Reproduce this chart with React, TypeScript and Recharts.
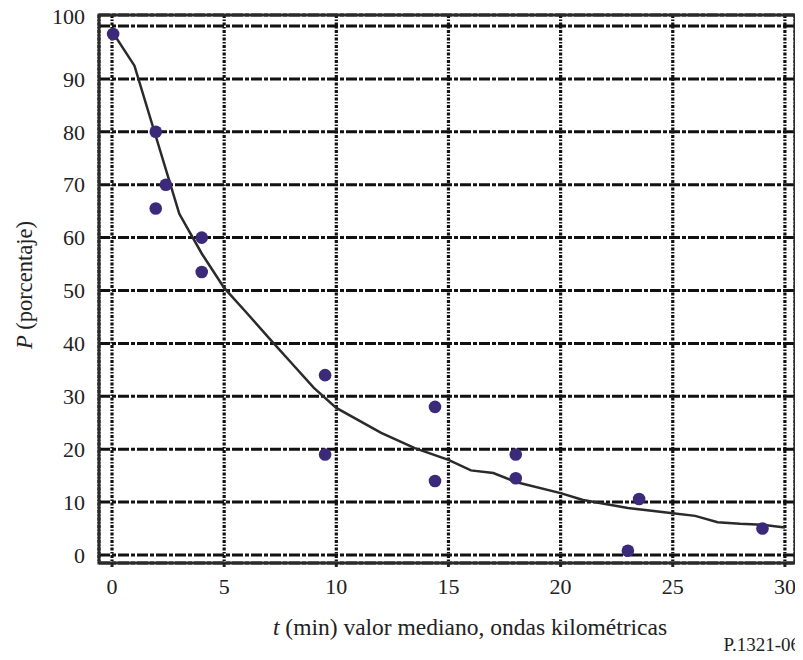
import React from 'react';
import { ComposedChart, Line, Scatter, XAxis, YAxis, CartesianGrid, ReferenceArea } from 'recharts';

const xTicks = [0, 5, 10, 15, 20, 25, 30];
const yTicks = [0, 10, 20, 30, 40, 50, 60, 70, 80, 90, 100];

const curveT = [0, 1, 3, 4, 5, 6, 7, 8, 9, 10, 12, 13.5, 15, 16, 17, 18, 20, 21, 23, 25, 26, 27, 28, 29, 30];
const curveP = [99, 92.5, 64.5, 57, 50.5, 45.8, 41, 36.3, 31.6, 27.8, 23.1, 20.2, 18, 16, 15.5, 13.8, 11.7, 10.4, 8.9, 7.9, 7.4, 6.2, 5.9, 5.7, 5.2];

const obsT = [0.05, 1.95, 2.4, 1.95, 4, 4, 9.5, 9.5, 14.4, 14.4, 18, 18, 23, 23.5, 29];
const obsP = [98.5, 80, 70, 65.5, 60, 53.5, 34, 19, 28, 14, 19, 14.5, 0.8, 10.6, 5];

const curveData = curveT.map((t, i) => ({ t, p: curveP[i] }));
const obsData = obsT.map((t, i) => ({ t, p: obsP[i] }));

const X_DOMAIN: [number, number] = [-0.58, 30.45];
const Y_DOMAIN: [number, number] = [-1.51, 102.08];

const FONT = 'Liberation Serif, Times New Roman, serif';

const XTick = (props: any) => {
  const { x, y, payload } = props;
  return (
    <text x={x} y={y} dy="0.71em" textAnchor="middle" fontFamily={FONT} fontSize={22} fill="#222">
      {payload.value}
    </text>
  );
};

const YTick = (props: any) => {
  const { x, y, payload } = props;
  const yy = payload.value === 100 ? y - 10 : y;
  return (
    <text x={x} y={yy} dy="0.35em" textAnchor="end" fontFamily={FONT} fontSize={22} fill="#222">
      {payload.value}
    </text>
  );
};

const Dot = (props: any) => {
  const { cx, cy } = props;
  return <circle cx={cx} cy={cy} r={6.3} fill="#3b2a7a" />;
};

export default function App() {
  return (
    <div style={{ position: 'relative', width: 795, height: 660, marginTop: -8 }}>
      <ComposedChart
        width={795}
        height={660}
        margin={{ top: 15, right: 8, left: 11, bottom: 57 }}
      >
        <CartesianGrid
          vertical={false}
          stroke="#111"
          strokeWidth={3}
          strokeDasharray="11 2 4 2"
        />
        <CartesianGrid
          horizontal={false}
          stroke="#111"
          strokeWidth={3.2}
          strokeDasharray="3 1.5 1.5 1.5"
        />
        <XAxis
          type="number"
          dataKey="t"
          domain={X_DOMAIN}
          ticks={xTicks}
          allowDataOverflow
          height={40}
          axisLine={false}
          tickLine={{ stroke: '#222', strokeWidth: 3 }}
          tickSize={4}
          tickMargin={11}
          tick={<XTick />}
        />
        <YAxis
          type="number"
          dataKey="p"
          domain={Y_DOMAIN}
          ticks={yTicks}
          allowDataOverflow
          width={80}
          axisLine={false}
          tickLine={false}
          tickSize={6}
          tickMargin={8}
          tick={<YTick />}
        />
        <ReferenceArea
          x1={X_DOMAIN[0]}
          x2={X_DOMAIN[1]}
          y1={Y_DOMAIN[0]}
          y2={Y_DOMAIN[1]}
          fill="none"
          fillOpacity={0}
          stroke="#2b2b2b"
          strokeWidth={3}
          ifOverflow="visible"
        />
        <Line
          data={curveData}
          dataKey="p"
          type="linear"
          stroke="#2a2a2a"
          strokeWidth={2.5}
          dot={false}
          activeDot={false}
          isAnimationActive={false}
        />
        <Scatter data={obsData} dataKey="p" shape={<Dot />} isAnimationActive={false} />
      </ComposedChart>
      <svg
        width={795}
        height={660}
        style={{ position: 'absolute', left: 0, top: 0, pointerEvents: 'none' }}
      >
        <text x={462} y={635} textAnchor="middle" fontFamily={FONT} fontSize={23.5} fill="#222">
          <tspan fontStyle="italic">t</tspan>
          <tspan> (min) valor mediano, ondas kilométricas</tspan>
        </text>
        <text
          x={0}
          y={0}
          transform="translate(16,285) rotate(-90)"
          dy="0.35em"
          textAnchor="middle"
          fontFamily={FONT}
          fontSize={22.5}
          fill="#222"
        >
          <tspan fontStyle="italic">P</tspan>
          <tspan> (porcentaje)</tspan>
        </text>
        <text x={792} y={651} textAnchor="end" fontFamily={FONT} fontSize={19} fill="#222">
          P.1321-06
        </text>
      </svg>
    </div>
  );
}
